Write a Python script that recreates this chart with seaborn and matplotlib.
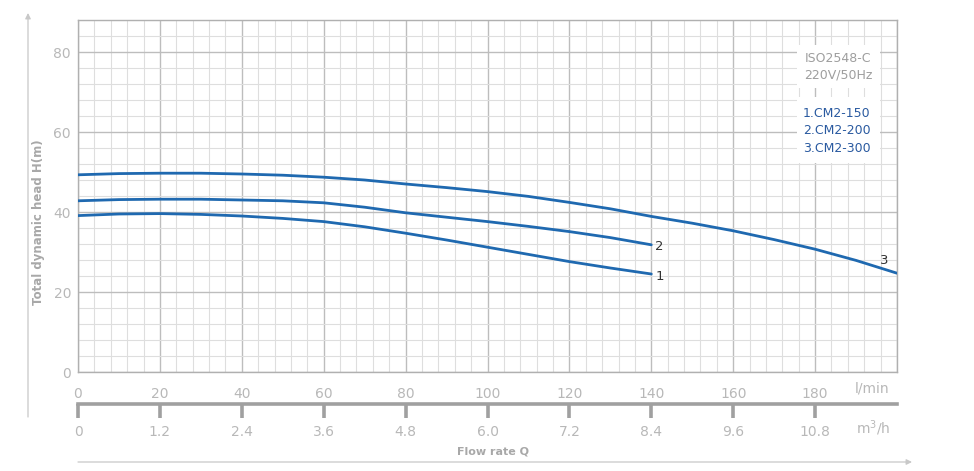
import numpy as np
import pandas as pd
import matplotlib.pyplot as plt
import seaborn as sns
from matplotlib.ticker import MultipleLocator, FixedLocator
from matplotlib.patches import Rectangle

# curve data (flow in l/min, head in m)
flow_short = [0, 10, 20, 30, 40, 50, 60, 70, 80, 90, 100, 110, 120, 130, 140]
flow_long = [0, 10, 20, 30, 40, 50, 60, 70, 80, 90, 100, 110, 120, 130, 140,
             150, 160, 170, 180, 190, 200]
head_cm2_150 = [39.1, 39.5, 39.6, 39.4, 39.0, 38.4, 37.6, 36.3, 34.7, 33.0,
                31.2, 29.4, 27.6, 26.0, 24.5]
head_cm2_200 = [42.8, 43.1, 43.2, 43.2, 43.0, 42.8, 42.3, 41.2, 39.8, 38.7,
                37.6, 36.4, 35.1, 33.6, 31.8]
head_cm2_300 = [49.3, 49.6, 49.7, 49.7, 49.5, 49.2, 48.7, 48.0, 47.0, 46.1,
                45.1, 43.9, 42.4, 40.8, 38.9, 37.2, 35.3, 33.1, 30.7, 27.9, 24.7]

lpm_ticks = [0, 20, 40, 60, 80, 100, 120, 140, 160, 180]
m3h_ticks = [0, 1.2, 2.4, 3.6, 4.8, 6.0, 7.2, 8.4, 9.6, 10.8]
m3h_labels = ["0", "1.2", "2.4", "3.6", "4.8", "6.0", "7.2", "8.4", "9.6", "10.8"]
y_ticks = [0, 20, 40, 60, 80]
models = ["1.CM2-150", "2.CM2-200", "3.CM2-300"]

df = pd.concat([
    pd.DataFrame({"flow": flow_short, "head": head_cm2_150, "model": "1"}),
    pd.DataFrame({"flow": flow_short, "head": head_cm2_200, "model": "2"}),
    pd.DataFrame({"flow": flow_long, "head": head_cm2_300, "model": "3"}),
])

sns.set_style("white")
plt.rcParams["font.family"] = ["DejaVu Sans"]

blue = "#1f69b0"
grey_txt = "#b8b8b8"

fig = plt.figure(figsize=(9.74, 4.71), dpi=100)
W, H = 974, 471
ax = fig.add_axes([78 / W, 1 - 372 / H, (897 - 78) / W, (372 - 20) / H])

sns.lineplot(data=df, x="flow", y="head", hue="model", units="model",
             estimator=None, palette=[blue, blue, blue], linewidth=2.0,
             legend=False, ax=ax, zorder=3)

ax.set_xlim(0, 200)
ax.set_ylim(0, 88)
ax.xaxis.set_major_locator(FixedLocator(lpm_ticks + [200]))
ax.xaxis.set_minor_locator(MultipleLocator(4))
ax.yaxis.set_major_locator(FixedLocator(y_ticks))
ax.yaxis.set_minor_locator(MultipleLocator(4))
ax.set_xticklabels([str(t) for t in lpm_ticks] + [""])
ax.grid(which="minor", color="#dedede", linewidth=0.8)
ax.grid(which="major", color="#bdbdbd", linewidth=1.0)
ax.set_axisbelow(True)
for s in ax.spines.values():
    s.set_color("#b0b0b0")
    s.set_linewidth(1.0)
ax.tick_params(axis="x", which="both", length=0, pad=11, labelsize=10, labelcolor=grey_txt)
ax.tick_params(axis="y", which="both", length=0, pad=5, labelsize=10, labelcolor=grey_txt)
ax.set_xlabel("")
ax.set_ylabel("")

# second flow scale in m3/h
sec = ax.secondary_xaxis(-32 / 352, functions=(lambda x: x * 0.06, lambda x: x / 0.06))
sec.set_xticks(m3h_ticks)
sec.set_xticklabels(m3h_labels)
sec.spines["bottom"].set_color("#a0a0a0")
sec.spines["bottom"].set_linewidth(2.6)
sec.tick_params(axis="x", direction="out", length=10, width=2.6, color="#a0a0a0",
                labelcolor=grey_txt, labelsize=10, pad=5)

# white info boxes
ax.add_patch(Rectangle((175.6, 71.0), 20.2, 10.8, facecolor="white", edgecolor="none", zorder=2))
ax.add_patch(Rectangle((175.6, 52.3), 20.2, 16.4, facecolor="white", edgecolor="none", zorder=2))
ax.text(185.6, 78.5, "ISO2548-C", ha="center", va="center", fontsize=9,
        color="#9e9e9e", zorder=4)
ax.text(185.6, 74.2, "220V/50Hz", ha="center", va="center", fontsize=9,
        color="#9e9e9e", zorder=4)
for i, m in enumerate(models):
    ax.text(177.0, 64.7 - i * 4.35, m, ha="left", va="center", fontsize=9,
            color="#2a5aa0", zorder=4)

# curve numbers
ax.text(141.0, 31.5, "2", ha="left", va="center", fontsize=9.5, color="#333333")
ax.text(141.0, 24.0, "1", ha="left", va="center", fontsize=9.5, color="#333333")
ax.text(196.8, 28.0, "3", ha="center", va="center", fontsize=9.5, color="#333333")

# units and axis titles
fig.text(872 / W, 1 - 388 / H, "l/min", ha="center", va="center", fontsize=10, color=grey_txt)
fig.text(873 / W, 1 - 428 / H, "m$^3$/h", ha="center", va="center", fontsize=10, color=grey_txt)
fig.text(493 / W, 1 - 452 / H, "Flow rate Q", ha="center", va="center", fontsize=8,
         color="#a8a8a8", fontweight="bold")
fig.text(39 / W, 1 - 222 / H, "Total dynamic head H(m)", ha="center", va="center",
         rotation=90, fontsize=8.5, color="#a8a8a8", fontweight="bold")

arrow = dict(arrowstyle="-|>", color="#c8c8c8", lw=0.9, mutation_scale=8, shrinkA=0, shrinkB=0)
ax.annotate("", xy=(28, H - 13), xytext=(28, H - 417), xycoords="figure pixels",
            textcoords="figure pixels", arrowprops=arrow, annotation_clip=False)
ax.annotate("", xy=(912, H - 462), xytext=(78, H - 462), xycoords="figure pixels",
            textcoords="figure pixels", arrowprops=arrow, annotation_clip=False)

fig.savefig("out.png", dpi=100)
